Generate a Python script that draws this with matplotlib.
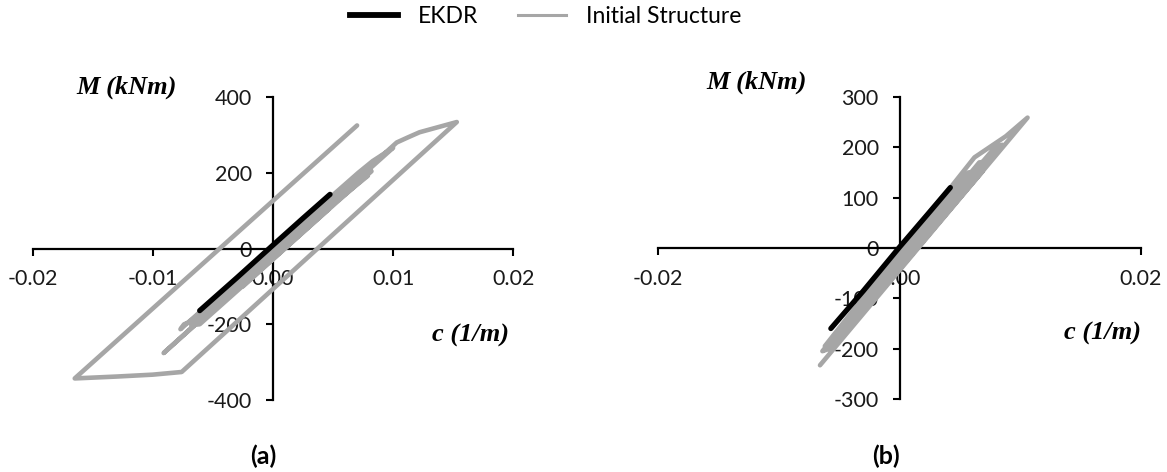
import matplotlib
matplotlib.use("Agg")
import matplotlib.pyplot as plt
from matplotlib.lines import Line2D

plt.rcParams["axes.unicode_minus"] = False
plt.rcParams["font.family"] = ["Lato", "DejaVu Sans"]

# (a) moment-curvature, initial structure (grey) and EKDR (black)
c_init_a = [0.0000, 0.0035, 0.0046, -0.0025, -0.0031, 0.0076, 0.0082, -0.0061, -0.0068,
            0.0073, 0.0079, -0.0070, -0.0074, -0.0077, 0.0071, 0.0083, 0.0100, -0.0091,
            0.0103, 0.0112, 0.0122, 0.0153, -0.0076, -0.0100, -0.0130, -0.0165, 0.0070]
m_init_a = [0, 100, 103, -100, -103, 200, 204, -200, -202,
            190, 192, -195, -200, -213, 200, 231, 266, -276,
            280, 293, 307, 334, -326, -333, -338, -343, 325]
c_ekdr_a = [-0.0061, -0.0030, 0.0000, 0.0025, 0.00475]
m_ekdr_a = [-164, -77, 9, 80, 143]

# (b)
c_init_b = [0.0000, 0.0035, 0.0048, -0.0023, -0.0032, 0.0057, 0.0069, -0.0042, -0.0050,
            0.0079, 0.0085, -0.0058, -0.0064, 0.0066, 0.0074, -0.0054, -0.0062,
            0.0062, 0.0088, 0.0106, -0.0066]
m_init_b = [0, 100, 102, -100, -102, 150, 153, -160, -163,
            200, 205, -200, -205, 170, 172, -190, -195,
            180, 222, 259, -233]
c_ekdr_b = [-0.0057, -0.0030, 0.0000, 0.0025, 0.0042]
m_ekdr_b = [-160, -85, 2, 72, 120]

xticks_a = [-0.02, -0.01, 0.0, 0.01, 0.02]
yticks_a = [-400, -200, 0, 200, 400]
xticks_b = [-0.02, 0.0, 0.02]
yticks_b = [-300, -200, -100, 0, 100, 200, 300]

GREY = "#a6a6a6"

fig = plt.figure(figsize=(11.67, 4.72), dpi=100)
ax_a = fig.add_axes([0.0280, 0.1525, 0.4118, 0.6419])
ax_b = fig.add_axes([0.5641, 0.1547, 0.4136, 0.6398])


def style_axes(ax, xticks, yticks, ylim):
    ax.set_xlim(-0.02, 0.02)
    ax.set_ylim(*ylim)
    ax.spines["left"].set_position("zero")
    ax.spines["bottom"].set_position("zero")
    ax.spines["top"].set_visible(False)
    ax.spines["right"].set_visible(False)
    for s in ("left", "bottom"):
        ax.spines[s].set_linewidth(1.6)
    ax.set_xticks(xticks)
    ax.set_xticklabels(["%.2f" % v for v in xticks])
    ax.set_yticks(yticks)
    ax.set_yticklabels([str(v) for v in yticks])
    ax.tick_params(direction="out", length=5, width=1.5, pad=10,
                   labelsize=15.5, labelcolor="#1a1a1a")
    ax.patch.set_visible(False)


for ax, ci, mi, ce, me, xt, yt, yl in [
    (ax_a, c_init_a, m_init_a, c_ekdr_a, m_ekdr_a, xticks_a, yticks_a, (-400, 400)),
    (ax_b, c_init_b, m_init_b, c_ekdr_b, m_ekdr_b, xticks_b, yticks_b, (-300, 300)),
]:
    ax.plot(ci, mi, color=GREY, lw=3.3, solid_joinstyle="round",
            solid_capstyle="round", zorder=3)
    ax.plot(ce, me, color="black", lw=3.8, solid_capstyle="round", zorder=4)
    style_axes(ax, xt, yt, yl)

lab = dict(family="Liberation Serif", weight="bold", style="italic", fontsize=19,
           ha="center", va="center")
fig.text(0.1085, 0.815, "M (kNm)", **lab)
fig.text(0.4035, 0.290, "c (1/m)", **lab)
fig.text(0.6485, 0.826, "M (kNm)", **lab)
fig.text(0.9445, 0.2945, "c (1/m)", **lab)

fig.text(0.2254, 0.034, "(a)", fontsize=18, weight="bold", ha="center", va="center")
fig.text(0.759, 0.034, "(b)", fontsize=18, weight="bold", ha="center", va="center")

handles = [Line2D([], [], color="black", lw=4.2),
           Line2D([], [], color=GREY, lw=2.2)]
fig.legend(handles, ["EKDR", "Initial Structure"], loc="center",
           bbox_to_anchor=(0.4675, 0.964), ncol=2, frameon=False, fontsize=16.5,
           handlelength=2.1, handletextpad=0.85, columnspacing=1.75)

fig.savefig("out.png", dpi=100)
